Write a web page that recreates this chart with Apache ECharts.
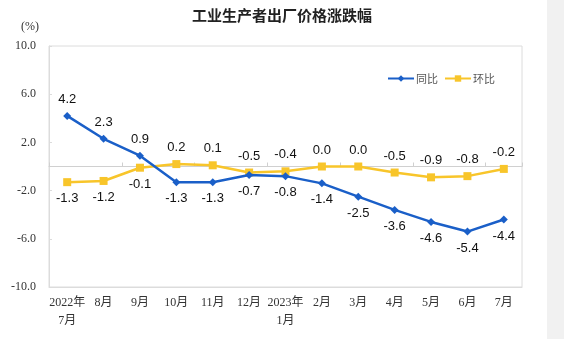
<!DOCTYPE html>
<html>
<head>
<meta charset="utf-8">
<script src="https://cdn.jsdelivr.net/npm/echarts@6/dist/echarts.min.js"></script>
<style>
html,body{margin:0;padding:0;background:#fff;}
#chart{width:564px;height:339px;}
</style>
</head>
<body>
<div id="chart"></div>
<script>
// Months shown along the x axis
const months = ['2022年\n7月','8月','9月','10月','11月','12月','2023年\n1月','2月','3月','4月','5月','6月','7月'];
// Year-on-year change (%)
const yoy = [4.2, 2.3, 0.9, -1.3, -1.3, -0.7, -0.8, -1.4, -2.5, -3.6, -4.6, -5.4, -4.4];
// Month-on-month change (%)
const mom = [-1.3, -1.2, -0.1, 0.2, 0.1, -0.5, -0.4, 0.0, 0.0, -0.5, -0.9, -0.8, -0.2];
// Label side for each point of each series
const yoyLabelSide = ['top','top','top','bottom','bottom','bottom','bottom','bottom','bottom','bottom','bottom','bottom','bottom'];
const momLabelSide = ['bottom','bottom','bottom','top','top','top','top','top','top','top','top','top','top'];

const BLUE = '#1a5fc8';
const YELLOW = '#f8c52a';
const serif = '"Liberation Serif","Noto Sans CJK SC",serif';
const sans = '"Liberation Sans",Arial,sans-serif';

function points(values, sides, dist) {
  return values.map((v, i) => ({
    value: v,
    label: { position: sides[i], distance: dist }
  }));
}

const chart = echarts.init(document.getElementById('chart'));
chart.setOption({
  animation: false,
  backgroundColor: '#fff',
  title: {
    text: '工业生产者出厂价格涨跌幅',
    left: 'center',
    top: 3,
    textStyle: { fontSize: 15, fontWeight: 'bold', color: '#222', fontFamily: '"Noto Sans CJK SC",sans-serif' }
  },
  legend: {
    right: 64,
    top: 68,
    itemWidth: 26,
    itemHeight: 8,
    itemGap: 6,
    textStyle: { fontSize: 11, color: '#555', fontFamily: '"Noto Sans CJK SC",sans-serif', padding: [0,0,0,-3] },
    data: ['同比', '环比']
  },
  grid: {
    left: 49, right: 42, top: 46, bottom: 52,
    show: true, borderColor: '#dcdcdc', borderWidth: 1
  },
  xAxis: [
    {
      type: 'category',
      data: months,
      position: 'bottom',
      axisLine: { onZero: false, lineStyle: { color: '#dcdcdc' } },
      axisTick: { show: false },
      axisLabel: { color: '#333', fontSize: 12, fontFamily: serif, margin: 7, lineHeight: 18, interval: 0 }
    },
    {
      type: 'category',
      data: months,
      position: 'bottom',
      axisLine: { onZero: true, lineStyle: { color: '#d0d0d0' } },
      axisTick: { show: true, inside: true, length: 4, lineStyle: { color: '#d0d0d0' } },
      axisLabel: { show: false }
    }
  ],
  yAxis: {
    type: 'value',
    min: -10, max: 10, interval: 4,
    name: '(%)',
    nameLocation: 'end',
    nameGap: 13,
    nameTextStyle: { color: '#333', fontSize: 12, fontFamily: serif, align: 'right', padding: [0, 10, 0, 0] },
    axisLine: { show: true, lineStyle: { color: '#dcdcdc' } },
    axisTick: { show: true, inside: true, length: 3, lineStyle: { color: '#dcdcdc' } },
    splitLine: { show: false },
    axisLabel: {
      color: '#333', fontSize: 12, fontFamily: serif, margin: 13,
      formatter: v => v.toFixed(1)
    }
  },
  graphic: [
    { type: 'rect', shape: { x: 547, y: 0, width: 17, height: 339 }, style: { fill: '#f1f1f1' }, silent: true }
  ],
  series: [
    {
      name: '同比',
      type: 'line',
      xAxisIndex: 1,
      data: points(yoy, yoyLabelSide, 6),
      symbol: 'diamond',
      symbolSize: 8,
      lineStyle: { color: BLUE, width: 2.5 },
      itemStyle: { color: BLUE },
      label: { show: true, color: '#111', fontSize: 13, fontFamily: sans, formatter: p => p.value.toFixed(1) },
      z: 3
    },
    {
      name: '环比',
      type: 'line',
      xAxisIndex: 1,
      data: points(mom, momLabelSide, 6),
      symbol: 'rect',
      symbolSize: 8,
      lineStyle: { color: YELLOW, width: 2.5 },
      itemStyle: { color: YELLOW },
      label: { show: true, color: '#111', fontSize: 13, fontFamily: sans, formatter: p => p.value.toFixed(1) },
      z: 2
    }
  ]
});
</script>
</body>
</html>
